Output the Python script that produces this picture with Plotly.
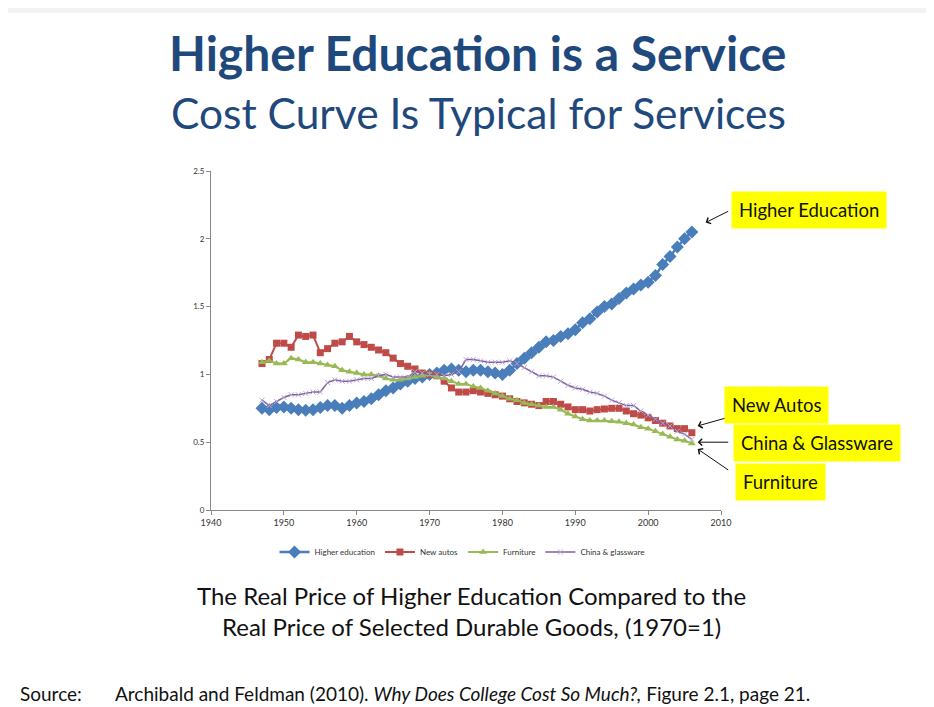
import plotly.graph_objects as go

years = list(range(1947, 2007))

higher_education = [0.75, 0.74, 0.755, 0.76, 0.75, 0.74, 0.735, 0.74, 0.755, 0.77,
                    0.77, 0.75, 0.77, 0.79, 0.80, 0.82, 0.85, 0.88, 0.90, 0.93,
                    0.95, 0.97, 0.98, 1.00, 1.01, 1.03, 1.04, 1.03, 1.02, 1.03,
                    1.03, 1.02, 1.01, 1.00, 1.03, 1.08, 1.12, 1.16, 1.20, 1.24,
                    1.25, 1.28, 1.30, 1.33, 1.38, 1.41, 1.46, 1.50, 1.52, 1.56,
                    1.60, 1.63, 1.66, 1.68, 1.73, 1.81, 1.87, 1.94, 2.00, 2.05]

new_autos = [1.08, 1.11, 1.23, 1.23, 1.20, 1.29, 1.28, 1.29, 1.16, 1.19,
             1.23, 1.24, 1.28, 1.24, 1.22, 1.20, 1.18, 1.16, 1.12, 1.08,
             1.06, 1.04, 1.01, 1.00, 0.99, 0.95, 0.90, 0.87, 0.87, 0.88,
             0.87, 0.86, 0.85, 0.84, 0.82, 0.80, 0.79, 0.78, 0.77, 0.80,
             0.80, 0.78, 0.76, 0.74, 0.74, 0.73, 0.74, 0.745, 0.75, 0.75,
             0.73, 0.71, 0.70, 0.68, 0.66, 0.64, 0.62, 0.60, 0.60, 0.57]

furniture = [1.09, 1.10, 1.08, 1.08, 1.12, 1.11, 1.09, 1.09, 1.08, 1.07,
             1.06, 1.03, 1.02, 1.01, 1.00, 1.00, 0.99, 0.97, 0.96, 0.96,
             0.97, 0.98, 0.99, 1.00, 0.98, 0.97, 0.95, 0.93, 0.93, 0.91,
             0.90, 0.88, 0.86, 0.84, 0.82, 0.81, 0.79, 0.78, 0.77, 0.76,
             0.76, 0.74, 0.71, 0.69, 0.67, 0.66, 0.66, 0.66, 0.655, 0.65,
             0.64, 0.63, 0.61, 0.60, 0.58, 0.56, 0.54, 0.52, 0.51, 0.49]

china_glassware = [0.81, 0.77, 0.80, 0.83, 0.85, 0.85, 0.86, 0.87, 0.87, 0.94,
                   0.96, 0.95, 0.95, 0.96, 0.97, 0.97, 0.99, 1.00, 0.98, 0.98,
                   0.98, 1.02, 1.01, 1.00, 1.00, 0.99, 1.00, 1.02, 1.11, 1.11,
                   1.10, 1.09, 1.09, 1.09, 1.10, 1.08, 1.05, 1.02, 0.99, 0.99,
                   0.98, 0.95, 0.92, 0.90, 0.89, 0.87, 0.86, 0.84, 0.81, 0.79,
                   0.77, 0.77, 0.73, 0.70, 0.67, 0.64, 0.62, 0.58, 0.56, 0.52]

y_ticks = [0, 0.5, 1, 1.5, 2, 2.5]
x_ticks = [1940, 1950, 1960, 1970, 1980, 1990, 2000, 2010]
grid_levels = [2.5, 1, 0.5]
grid_colors = ["#c8c8c8", "#c8c8c8", "#808080"]

# label, arrow tip (data units), arrow tail offset from tip (px)
callouts = [
    ("Higher Education", 2007.9, 2.12, 24, -12),
    ("New Autos", 2006.8, 0.62, 32, -9),
    ("China & Glassware", 2006.8, 0.50, 32, 0),
    ("Furniture", 2006.8, 0.45, 32, 22),
]
# yellow box centres on the page (px)
box_pos = [(808.5, 210), (776.5, 405), (817, 443), (780, 482)]

fig = go.Figure()
fig.add_trace(go.Scatter(x=years, y=higher_education, name="Higher education",
                         mode="lines+markers", line=dict(color="#4a7ebb", width=2.5),
                         marker=dict(symbol="diamond", size=10, color="#4a7ebb")))
fig.add_trace(go.Scatter(x=years, y=new_autos, name="New autos",
                         mode="lines+markers", line=dict(color="#be4b48", width=2),
                         marker=dict(symbol="square", size=7, color="#be4b48")))
fig.add_trace(go.Scatter(x=years, y=furniture, name="Furniture",
                         mode="lines+markers", line=dict(color="#98b954", width=2),
                         marker=dict(symbol="triangle-up", size=7, color="#98b954")))
fig.add_trace(go.Scatter(x=years, y=china_glassware, name="China & glassware",
                         mode="lines+markers", line=dict(color="#7d60a0", width=1.5),
                         marker=dict(symbol="x-thin", size=5,
                                     line=dict(color="#b9a6d2", width=1))))

for lvl, col in zip(grid_levels, grid_colors):
    fig.add_shape(type="line", xref="paper", x0=0, x1=1, yref="y", y0=lvl, y1=lvl,
                  line=dict(color=col, width=1), layer="below")

# the page has an 8px body margin, so the figure is drawn 8px right and down
W, H = 934, 707
OFF = 8
PL, PR, PT, PB = 211, 721, 171, 510   # plot area on the page
L, R, T, B = PL - OFF, W - (PR - OFF), PT - OFF, H - (PB - OFF)
pw, ph = PR - PL, PB - PT

def px(x):
    return (x - PL) / pw

def py(y):
    return (PB - y) / ph

# white slide
fig.add_shape(type="rect", xref="paper", yref="paper", x0=px(0), x1=px(960),
              y0=py(740), y1=py(13), fillcolor="white", line_width=0, layer="below")

def note(x, y, text, size, color="#111111", xanchor="center", **kw):
    fig.add_annotation(x=px(x), y=py(y), xref="paper", yref="paper", text=text,
                       showarrow=False, xanchor=xanchor, yanchor="middle",
                       font=dict(family="Lato", size=size, color=color), **kw)

for (label, tx, ty, ax, ay), (bx, by) in zip(callouts, box_pos):
    fig.add_annotation(x=tx, y=ty, xref="x", yref="y", ax=ax, ay=ay, text="",
                       showarrow=True, arrowhead=4, arrowsize=1.3, arrowwidth=1,
                       arrowcolor="#111111", axref="pixel", ayref="pixel")
    note(bx, by, label, 18.5, bgcolor="#ffff00", borderpad=7)

note(478, 53, "<b>Higher Education is a Service</b>", 48, color="#1f497d")
note(478, 112, "Cost Curve Is Typical for Services", 42.5, color="#1f497d")
note(471, 611, "The Real Price of Higher Education Compared to the<br>"
               "Real Price of Selected Durable Goods, (1970=1)", 24, align="center")
note(18, 693, "Source:", 19, xanchor="left")
note(113, 693, "Archibald and Feldman (2010). <i>Why Does College Cost So Much?,</i> "
               "Figure 2.1, page 21.", 19, xanchor="left")

fig.update_layout(
    width=W, height=H,
    margin=dict(l=L, r=R, t=T, b=B),
    paper_bgcolor="#f2f2f2",
    plot_bgcolor="rgba(0,0,0,0)",
    font=dict(family="Lato", color="#333333"),
    showlegend=True,
    legend=dict(orientation="h", x=px(462), xanchor="center", y=py(552), yanchor="middle",
                font=dict(size=8, color="#333333"), bgcolor="rgba(0,0,0,0)",
                itemwidth=30),
)
fig.update_xaxes(range=[1940, 2010], tickvals=x_ticks, showgrid=False, zeroline=False,
                 showline=True, linecolor="#888888", ticks="outside", ticklen=4,
                 tickcolor="#888888", tickfont=dict(size=9, color="#333333"))
fig.update_yaxes(range=[0, 2.5], tickvals=y_ticks, showgrid=False, zeroline=False,
                 showline=True, linecolor="#888888", ticks="outside", ticklen=4,
                 tickcolor="#888888", tickfont=dict(size=8, color="#333333"))

fig.write_html("out.html")
